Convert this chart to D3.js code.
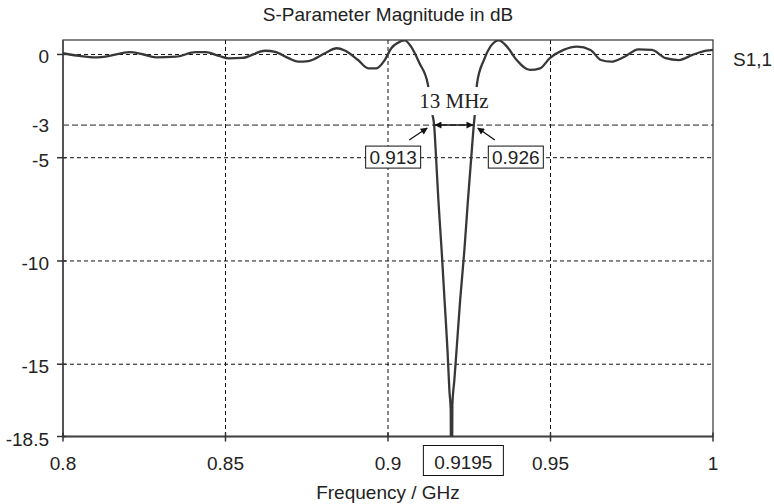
<!DOCTYPE html>
<html>
<head>
<meta charset="utf-8">
<script src="https://cdn.jsdelivr.net/npm/d3@7"></script>
<style>
  body { margin: 0; background: #fff; }
  text { font-family: "Liberation Sans", Arial, sans-serif; fill: #222; }
</style>
</head>
<body>
<div id="chart"></div>
<script>
// S1,1 magnitude (GHz, dB)
var freq = [
  0.8, 0.8051, 0.8102, 0.8143, 0.8204, 0.8245, 0.8286, 0.8347, 0.8408, 0.8439,
  0.8480, 0.8510, 0.8551, 0.8622, 0.8653, 0.8694, 0.8724, 0.8755, 0.8806, 0.8842,
  0.8867, 0.8908, 0.8939, 0.8964, 0.8990, 0.9010, 0.9030, 0.9051, 0.9071, 0.9097,
  0.9122, 0.9137, 0.9142, 0.9148, 0.9155, 0.9165, 0.9174, 0.9183, 0.9189, 0.9193,
  0.9195,
  0.9198, 0.9204, 0.9211, 0.9222, 0.9235, 0.9246, 0.9256, 0.9264, 0.9267, 0.9274,
  0.9295, 0.9315, 0.9341, 0.9366, 0.9396, 0.9437, 0.9468, 0.9498, 0.9540, 0.9582,
  0.9623, 0.9655, 0.9686, 0.9728, 0.9770, 0.9812, 0.9854, 0.9895, 0.9937, 0.9979,
  1.0
];
var s11 = [
  0.06, -0.07, -0.14, -0.07, 0.11, 0.01, -0.14, -0.11, 0.11, 0.11,
  -0.07, -0.19, -0.17, 0.18, 0.12, -0.18, -0.35, -0.32, 0.06, 0.30,
  0.19, -0.27, -0.67, -0.67, -0.27, 0.30, 0.56, 0.68, 0.38, -0.43,
  -1.40, -2.93, -3.42, -5.02, -7.05, -9.48, -11.9, -14.3, -16.3, -17.2,
  -28,
  -17.0, -15.8, -14.3, -11.9, -9.48, -7.05, -5.02, -3.42, -2.93, -1.40,
  -0.27, 0.38, 0.68, 0.38, -0.27, -0.75, -0.67, -0.18, 0.22, 0.38,
  0.22, -0.27, -0.35, -0.11, 0.25, 0.22, -0.18, -0.27, -0.02, 0.18,
  0.22
];

var xTicks = [0.8, 0.85, 0.9, 0.95, 1];
var xTickLabels = ["0.8", "0.85", "0.9", "0.95", "1"];
var yTicks = [0, -5, -10, -15, -18.5];
var yTickLabels = ["0", "-5", "-10", "-15", "-18.5"];

// -3 dB marker and bandwidth annotation
var markerLevel = -3.42;
var markerLabel = "-3";
var bandEdges = [0.9142, 0.9264];
var bandEdgeLabels = ["0.913", "0.926"];
var bandLabel = "13 MHz";
var notchFreq = 0.9195;
var notchLabel = "0.9195";

var title = "S-Parameter Magnitude in dB";
var xTitle = "Frequency / GHz";
var seriesName = "S1,1";

var width = 774, height = 504;
var margin = { top: 40, right: 61, bottom: 67.5, left: 63 };
var plotW = width - margin.left - margin.right;
var plotH = height - margin.top - margin.bottom;

var svg = d3.select("#chart").append("svg")
  .attr("width", width)
  .attr("height", height);

var x = d3.scaleLinear().domain([0.8, 1]).range([margin.left, margin.left + plotW]);
var y = d3.scaleLinear().domain([0.70, -18.5]).range([margin.top, margin.top + plotH]);

var x0 = margin.left, x1 = margin.left + plotW;
var y0 = margin.top, y1 = margin.top + plotH;

svg.append("defs").append("clipPath").attr("id", "plotClip")
  .append("rect").attr("x", x0).attr("y", y0).attr("width", plotW).attr("height", plotH);

var arrowDefs = svg.select("defs");
arrowDefs.append("marker").attr("id", "arrowEnd")
  .attr("viewBox", "0 0 10 10").attr("refX", 9).attr("refY", 5)
  .attr("markerWidth", 9).attr("markerHeight", 7).attr("markerUnits", "userSpaceOnUse")
  .attr("orient", "auto")
  .append("path").attr("d", "M0,0L10,5L0,10z").attr("fill", "#111");
arrowDefs.append("marker").attr("id", "arrowStart")
  .attr("viewBox", "0 0 10 10").attr("refX", 1).attr("refY", 5)
  .attr("markerWidth", 9).attr("markerHeight", 7).attr("markerUnits", "userSpaceOnUse")
  .attr("orient", "auto")
  .append("path").attr("d", "M10,0L0,5L10,10z").attr("fill", "#111");

// grid lines
var grid = svg.append("g");
grid.selectAll(".vgrid")
  .data(xTicks.filter(function(d) { return d > 0.8 && d < 1; }))
  .enter().append("line")
  .attr("x1", function(d) { return x(d); }).attr("x2", function(d) { return x(d); })
  .attr("y1", y0).attr("y2", y1)
  .attr("stroke", "#111").attr("stroke-width", 1).attr("stroke-dasharray", "4,3");
grid.selectAll(".hgrid")
  .data(yTicks.filter(function(d) { return d > -18.5; }))
  .enter().append("line")
  .attr("x1", x0).attr("x2", x1)
  .attr("y1", function(d) { return y(d); }).attr("y2", function(d) { return y(d); })
  .attr("stroke", "#111").attr("stroke-width", 1).attr("stroke-dasharray", "4,3");
grid.append("line")
  .attr("x1", x0).attr("x2", x1)
  .attr("y1", y(markerLevel)).attr("y2", y(markerLevel))
  .attr("stroke", "#222").attr("stroke-width", 1).attr("stroke-dasharray", "6,3");

// frame
svg.append("rect")
  .attr("x", x0).attr("y", y0).attr("width", plotW).attr("height", plotH)
  .attr("fill", "none").attr("stroke", "#333").attr("stroke-width", 1.2);
svg.append("line").attr("x1", x0).attr("x2", x0).attr("y1", y0).attr("y2", y1)
  .attr("stroke", "#555").attr("stroke-width", 2);
svg.append("line").attr("x1", x0).attr("x2", x1).attr("y1", y1).attr("y2", y1)
  .attr("stroke", "#444").attr("stroke-width", 2);

// ticks
svg.selectAll(".xtick").data(xTicks).enter().append("line")
  .attr("x1", function(d) { return x(d); }).attr("x2", function(d) { return x(d); })
  .attr("y1", y1 - 4).attr("y2", y1 + 5)
  .attr("stroke", "#333").attr("stroke-width", 1.5);
svg.selectAll(".ytick").data(yTicks).enter().append("line")
  .attr("x1", x0 - 6).attr("x2", x0 + 3)
  .attr("y1", function(d) { return y(d); }).attr("y2", function(d) { return y(d); })
  .attr("stroke", "#333").attr("stroke-width", 1.5);

// tick labels
svg.selectAll(".xlabel").data(xTicks).enter().append("text")
  .attr("x", function(d) { return x(d); })
  .attr("y", y1 + 33)
  .attr("text-anchor", "middle")
  .attr("font-size", "19px")
  .text(function(d, i) { return xTickLabels[i]; });
svg.selectAll(".ylabel").data(yTicks).enter().append("text")
  .attr("x", x0 - 14)
  .attr("y", function(d) { return y(d) + 9; })
  .attr("text-anchor", "end")
  .attr("font-size", "19px")
  .text(function(d, i) { return yTickLabels[i]; });
svg.append("text")
  .attr("x", x0 - 14).attr("y", y(markerLevel) + 7)
  .attr("text-anchor", "end").attr("font-size", "19px")
  .text(markerLabel);

// curve
var pts = freq.map(function(f, i) { return [f, s11[i]]; });
var line = d3.line()
  .x(function(d) { return x(d[0]); })
  .y(function(d) { return y(d[1]); })
  .curve(d3.curveMonotoneX);
svg.append("path")
  .datum(pts)
  .attr("clip-path", "url(#plotClip)")
  .attr("d", line)
  .attr("fill", "none")
  .attr("stroke", "#383838")
  .attr("stroke-width", 2.3)
  .attr("stroke-linejoin", "round");

// bandwidth annotation
var ex0 = x(bandEdges[0]), ex1 = x(bandEdges[1]), my = y(markerLevel);
var midX = (ex0 + ex1) / 2;
svg.append("rect")
  .attr("x", midX - 38).attr("y", my - 38).attr("width", 76).attr("height", 28)
  .attr("fill", "#fff");
svg.append("text")
  .attr("x", midX).attr("y", my - 17)
  .attr("text-anchor", "middle")
  .style("font-family", "'Liberation Serif', 'Times New Roman', serif")
  .attr("font-size", "21px")
  .text(bandLabel);
svg.append("line")
  .attr("x1", ex0 + 1).attr("x2", ex1 - 1).attr("y1", my).attr("y2", my)
  .attr("stroke", "#111").attr("stroke-width", 1.5)
  .attr("marker-start", "url(#arrowStart)")
  .attr("marker-end", "url(#arrowEnd)");

// edge value boxes with pointers
var edgeBoxes = [
  { fx: ex0, cx: ex0 - 41, sx: ex0 - 25, tx: ex0 - 7 },
  { fx: ex1, cx: ex1 + 42, sx: ex1 + 21, tx: ex1 + 4 }
];
edgeBoxes.forEach(function(b, i) {
  svg.append("line")
    .attr("x1", b.sx).attr("y1", my + 15).attr("x2", b.tx).attr("y2", my + 3)
    .attr("stroke", "#111").attr("stroke-width", 1.3)
    .attr("marker-end", "url(#arrowEnd)");
  svg.append("rect")
    .attr("x", b.cx - 27.5).attr("y", my + 21).attr("width", 55).attr("height", 22)
    .attr("fill", "#fff").attr("stroke", "#111").attr("stroke-width", 1);
  svg.append("text")
    .attr("x", b.cx).attr("y", my + 39)
    .attr("text-anchor", "middle").attr("font-size", "19px")
    .text(bandEdgeLabels[i]);
});

// notch frequency box on the axis
var nx = x(notchFreq);
svg.append("rect")
  .attr("x", nx - 28).attr("y", y1 + 9).attr("width", 80).attr("height", 30)
  .attr("fill", "#fff").attr("stroke", "#111").attr("stroke-width", 1);
svg.append("text")
  .attr("x", nx + 12).attr("y", y1 + 32)
  .attr("text-anchor", "middle").attr("font-size", "19px")
  .text(notchLabel);

// titles and legend
svg.append("text")
  .attr("x", (x0 + x1) / 2).attr("y", 21)
  .attr("text-anchor", "middle").attr("font-size", "19px")
  .text(title);
svg.append("text")
  .attr("x", (x0 + x1) / 2).attr("y", 499)
  .attr("text-anchor", "middle").attr("font-size", "19px")
  .text(xTitle);
svg.append("text")
  .attr("x", x1 + 20).attr("y", y(0) + 12)
  .attr("font-size", "19px")
  .text(seriesName);
</script>
</body>
</html>
